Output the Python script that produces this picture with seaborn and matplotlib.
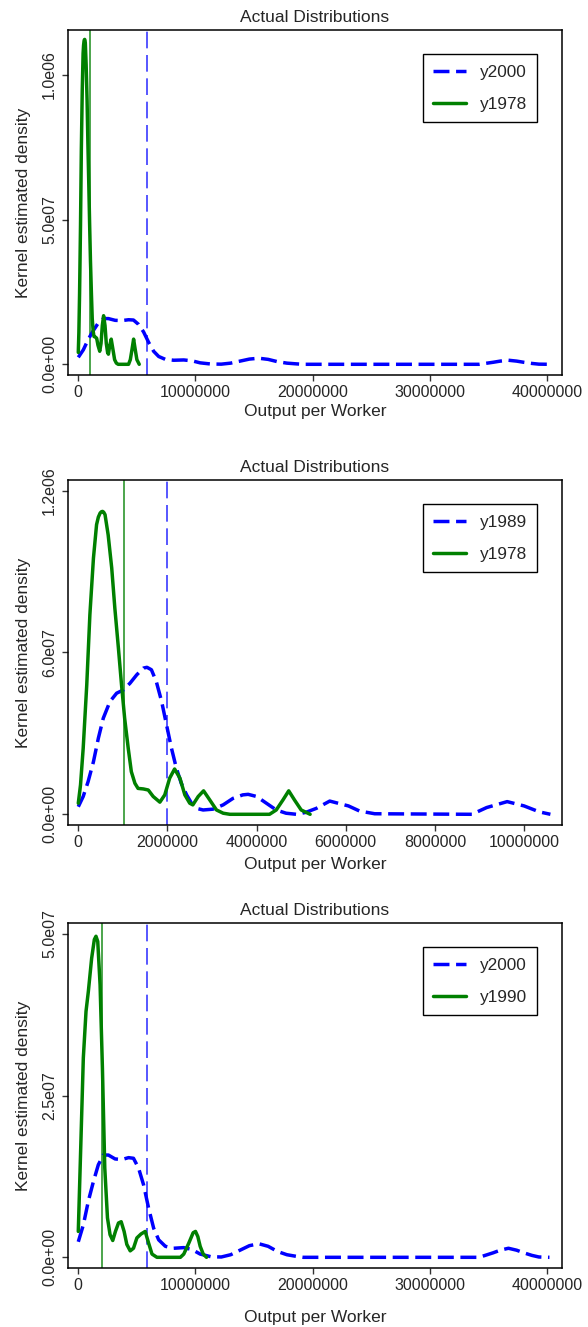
import numpy as np
import pandas as pd
import matplotlib
matplotlib.use("Agg")
import matplotlib.pyplot as plt
import seaborn as sns

# ---------------- data (x in millions of output per worker, density in 1e-6 units) -------------
y2000_x = [0, 0.43, 0.86, 1.29, 1.71, 2.14, 2.57, 3.14, 3.71, 4.29, 4.71, 5.14, 5.57, 6.0, 6.43,
           6.86, 7.43, 8.14, 9.0, 9.71, 10.4, 11.3, 12.2, 13.0, 13.8, 14.6, 15.4, 16.2, 17.0, 17.8,
           18.6, 19.2, 25.0, 30.0, 34.2, 35.4, 36.0, 36.7, 37.4, 38.0, 38.7, 39.3, 40.2]
y2000_d = [0.024, 0.050, 0.087, 0.117, 0.143, 0.158, 0.158, 0.152, 0.151, 0.154, 0.153, 0.138,
           0.112, 0.076, 0.045, 0.027, 0.017, 0.014, 0.015, 0.012, 0.005, 0.001, 0.0005, 0.004,
           0.011, 0.018, 0.021, 0.017, 0.009, 0.004, 0.0015, 0.0, 0.0, 0.0, 0.0, 0.007, 0.011,
           0.014, 0.011, 0.007, 0.003, 0.0005, 0.0]

y1978_x = [0, 0.05, 0.11, 0.19, 0.26, 0.34, 0.41, 0.45, 0.49, 0.52, 0.545, 0.57, 0.6, 0.67, 0.75,
           0.82, 0.9, 0.97, 1.04, 1.12, 1.19, 1.27, 1.34, 1.46, 1.57, 1.68, 1.83, 1.94, 2.05, 2.16,
           2.28, 2.39, 2.5, 2.57, 2.69, 2.81, 2.95, 3.1, 3.25, 3.4, 4.29, 4.44, 4.59, 4.72, 4.85,
           5.0, 5.2]
y1978_d = [0.041, 0.109, 0.245, 0.48, 0.74, 0.95, 1.074, 1.102, 1.117, 1.122, 1.123, 1.12, 1.111,
           1.036, 0.913, 0.764, 0.616, 0.48, 0.356, 0.245, 0.158, 0.115, 0.096, 0.094, 0.09, 0.066,
           0.045, 0.072, 0.134, 0.168, 0.134, 0.072, 0.041, 0.035, 0.066, 0.087, 0.053, 0.016,
           0.004, 0.0, 0.0, 0.016, 0.053, 0.087, 0.053, 0.016, 0.0]

y1989_x = [0, 0.11, 0.22, 0.34, 0.45, 0.56, 0.71, 0.86, 1.01, 1.16, 1.31, 1.46, 1.54, 1.64, 1.75,
           1.87, 1.98, 2.09, 2.2, 2.31, 2.43, 2.54, 2.65, 2.8, 3.02, 3.25, 3.47, 3.69, 3.81, 4.0,
           4.22, 4.44, 4.66, 4.89, 5.1, 5.34, 5.64, 6.06, 6.31, 6.65, 8.83, 9.16, 9.62, 10.0,
           10.34, 10.59]
y1989_d = [0.028, 0.066, 0.121, 0.195, 0.282, 0.356, 0.418, 0.449, 0.461, 0.486, 0.517, 0.542,
           0.545, 0.536, 0.492, 0.418, 0.331, 0.245, 0.171, 0.115, 0.072, 0.041, 0.022, 0.016,
           0.019, 0.035, 0.059, 0.072, 0.074, 0.066, 0.041, 0.016, 0.004, 0.0, 0.007, 0.022,
           0.049, 0.031, 0.012, 0.002, 0.0, 0.025, 0.047, 0.031, 0.009, 0.0]

y1990_x = [0, 0.2, 0.43, 0.66, 0.86, 1.14, 1.37, 1.51, 1.66, 1.86, 2.06, 2.26, 2.49, 2.71, 2.94,
           3.17, 3.43, 3.66, 3.91, 4.14, 4.43, 4.71, 5.0, 5.35, 5.71, 6.0, 6.29, 6.71, 7.86, 8.71,
           9.0, 9.43, 9.8, 10.0, 10.2, 10.4, 10.66, 10.94]
y1990_d = [0.040, 0.164, 0.308, 0.38, 0.411, 0.462, 0.491, 0.496, 0.488, 0.421, 0.292, 0.138,
           0.061, 0.035, 0.026, 0.040, 0.053, 0.055, 0.040, 0.020, 0.010, 0.014, 0.030, 0.036,
           0.040, 0.022, 0.005, 0.0, 0.0, 0.0, 0.005, 0.022, 0.038, 0.040, 0.032, 0.017, 0.005, 0.0]

# reference lines (millions)
vline_y2000 = 5.89
vline_y1978 = 1.03
vline_y1989 = 2.0
vline_y1990 = 2.05

panels = [
    dict(blue=("y2000", y2000_x, y2000_d), green=("y1978", y1978_x, y1978_d),
         vb=vline_y2000, vg=vline_y1978,
         xticks=[0, 10, 20, 30, 40], xticklabels=["0", "10000000", "20000000", "30000000", "40000000"],
         yticks=[0, 0.5, 1.0], yticklabels=["0.0e+00", "5.0e07", "1.0e06"]),
    dict(blue=("y1989", y1989_x, y1989_d), green=("y1978", y1978_x, y1978_d),
         vb=vline_y1989, vg=vline_y1978,
         xticks=[0, 2, 4, 6, 8, 10], xticklabels=["0", "2000000", "4000000", "6000000", "8000000", "10000000"],
         yticks=[0, 0.6, 1.2], yticklabels=["0.0e+00", "6.0e07", "1.2e06"]),
    dict(blue=("y2000", y2000_x, y2000_d), green=("y1990", y1990_x, y1990_d),
         vb=vline_y2000, vg=vline_y1990,
         xticks=[0, 10, 20, 30, 40], xticklabels=["0", "10000000", "20000000", "30000000", "40000000"],
         yticks=[0, 0.25, 0.5], yticklabels=["0.0e+00", "2.5e07", "5.0e07"]),
]

# ---------------- layout ----------------
W, H = 588, 1327
layout = [  # (top px, bottom px, xlim, ylim, xlabelpad)
    (30, 375, (-0.92, 41.27), (-0.037, 1.1555), 2.5),
    (480, 825, (-0.242, 10.85), (-0.0397, 1.2395), 4.5),
    (923, 1268, (-0.92, 41.27), (-0.0165, 0.5165), 12),
]
LEFT, RIGHT = 67.5, 562

sns.set_theme(style="ticks")
plt.rcParams["font.family"] = ["Liberation Sans", "DejaVu Sans"]
plt.rcParams["axes.linewidth"] = 1.0

fig = plt.figure(figsize=(W / 100, H / 100), dpi=100)
fig.patch.set_facecolor("white")

BLUE = "#0000ff"
GREEN = "#008000"
CURVE_DASH = (4.6, 1.9)

for p, (top, bot, xl, yl, xpad) in zip(panels, layout):
    ax = fig.add_axes([LEFT / W, 1 - bot / H, (RIGHT - LEFT) / W, (bot - top) / H])
    ax.set_facecolor("white")
    ax.axvline(p["vb"] * 1e6, color="#3a3aff", lw=1.2, dashes=(10, 4), zorder=1)
    ax.axvline(p["vg"] * 1e6, color="#2e962e", lw=1.2, zorder=1)

    bname, bx, bd = p["blue"]
    gname, gx, gd = p["green"]
    dfb = pd.DataFrame({"x": np.array(bx) * 1e6, "d": np.array(bd) * 1e-6})
    dfg = pd.DataFrame({"x": np.array(gx) * 1e6, "d": np.array(gd) * 1e-6})
    sns.lineplot(data=dfb, x="x", y="d", ax=ax, color=BLUE, lw=2.5, label=bname, zorder=3)
    ax.lines[-1].set_dashes(CURVE_DASH)
    sns.lineplot(data=dfg, x="x", y="d", ax=ax, color=GREEN, lw=2.5, label=gname, zorder=4)

    ax.set_xlim(xl[0] * 1e6, xl[1] * 1e6)
    ax.set_ylim(yl[0] * 1e-6, yl[1] * 1e-6)
    ax.set_xticks(np.array(p["xticks"]) * 1e6)
    ax.set_xticklabels(p["xticklabels"], fontsize=11.5)
    ax.set_yticks(np.array(p["yticks"]) * 1e-6)
    ax.set_yticklabels(p["yticklabels"], fontsize=11.5, rotation=90, va="center")
    ax.tick_params(axis="both", direction="out", length=4.5, width=1.0, color="#333333", pad=3)
    for s in ax.spines.values():
        s.set_visible(True)
        s.set_color("black")
        s.set_linewidth(1.1)
    ax.set_title("Actual Distributions", fontsize=12.5, pad=5.5)
    ax.set_xlabel("Output per Worker", fontsize=12.5, labelpad=xpad)
    ax.set_ylabel("Kernel estimated density", fontsize=12.5, labelpad=8)
    ax.grid(False)

    leg = ax.legend(loc="upper right", bbox_to_anchor=(0.950, 0.930), borderaxespad=0,
                    fontsize=12.4, frameon=True, fancybox=False, handlelength=1.9,
                    handletextpad=0.8, labelspacing=1.0, borderpad=0.6)
    leg.get_frame().set_edgecolor("black")
    leg.get_frame().set_linewidth(1.0)
    leg.get_frame().set_alpha(1)
    leg.legend_handles[0].set_dashes(CURVE_DASH)

fig.savefig("out.png", dpi=100, facecolor="white")
